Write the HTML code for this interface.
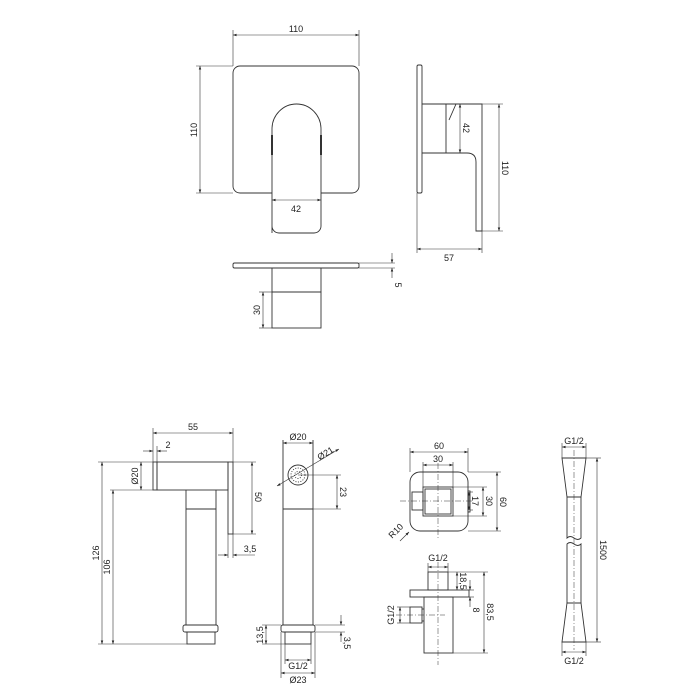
<!DOCTYPE html>
<html><head><meta charset="utf-8"><style>
html,body{margin:0;padding:0;background:#fff}
svg{display:block}
text{font-family:"Liberation Sans",sans-serif;font-size:9px;fill:#222}
</style></head><body>
<svg width="700" height="700" viewBox="0 0 700 700">
<defs>
<marker id="a" viewBox="0 0 10 10" refX="10" refY="5" markerWidth="6" markerHeight="6" orient="auto-start-reverse"><path d="M0,1.5 L10,5 L0,8.5 z" fill="#222"/></marker>
</defs>
<g fill="none" stroke="#333" stroke-width="0.9">
<!-- Top front -->
<rect x="233" y="66" width="126" height="127" rx="7"/>
<path d="M272,233 V129 A24.5,25 0 0 1 321,129 V226 A7,7 0 0 1 314,233 H279 A7,7 0 0 1 272,226" fill="#fff"/>
<line x1="272" y1="135" x2="272" y2="155" stroke-width="2"/>
<line x1="321" y1="135" x2="321" y2="155" stroke-width="2"/>
<line x1="233" y1="30" x2="233" y2="66" stroke-width="0.6"/>
<line x1="359" y1="30" x2="359" y2="66" stroke-width="0.6"/>
<line x1="233" y1="35" x2="359" y2="35" marker-start="url(#a)" marker-end="url(#a)" stroke-width="0.6"/>
<line x1="196" y1="66" x2="233" y2="66" stroke-width="0.6"/>
<line x1="196" y1="193" x2="233" y2="193" stroke-width="0.6"/>
<line x1="200" y1="66" x2="200" y2="193" marker-start="url(#a)" marker-end="url(#a)" stroke-width="0.6"/>
<line x1="272" y1="200" x2="321" y2="200" marker-start="url(#a)" marker-end="url(#a)" stroke-width="0.6"/>
<!-- side view -->
<rect x="417" y="65" width="5" height="128" rx="1.5"/>
<path d="M422,104 H482 V231 H476 V162 Q476,153 467,153 H422"/>
<path d="M446,104 V153 M456,104 L449,120"/>
<line x1="482" y1="104" x2="503" y2="104" stroke-width="0.6"/>
<line x1="482" y1="231" x2="503" y2="231" stroke-width="0.6"/>
<line x1="499" y1="104" x2="499" y2="231" marker-start="url(#a)" marker-end="url(#a)" stroke-width="0.6"/>
<line x1="460" y1="104" x2="460" y2="153" marker-start="url(#a)" marker-end="url(#a)" stroke-width="0.6"/>
<line x1="417" y1="193" x2="417" y2="253" stroke-width="0.6"/>
<line x1="482" y1="231" x2="482" y2="253" stroke-width="0.6"/>
<line x1="417" y1="249" x2="482" y2="249" marker-start="url(#a)" marker-end="url(#a)" stroke-width="0.6"/>
<!-- bottom view -->
<rect x="233" y="263" width="126" height="5" rx="1.5"/>
<line x1="359" y1="263" x2="395" y2="263" stroke-width="0.6"/>
<line x1="359" y1="268" x2="395" y2="268" stroke-width="0.6"/>
<line x1="392" y1="253" x2="392" y2="263" marker-end="url(#a)" stroke-width="0.6"/>
<line x1="392" y1="278" x2="392" y2="268" marker-end="url(#a)" stroke-width="0.6"/>
<rect x="272" y="268" width="49" height="24"/>
<rect x="272" y="292" width="49" height="36"/>
<line x1="259" y1="292" x2="272" y2="292" stroke-width="0.6"/>
<line x1="259" y1="328" x2="272" y2="328" stroke-width="0.6"/>
<line x1="263" y1="292" x2="263" y2="328" marker-start="url(#a)" marker-end="url(#a)" stroke-width="0.6"/>

<!-- hand shower side -->
<rect x="153" y="462" width="4" height="28"/>
<rect x="157" y="462" width="71" height="28"/>
<rect x="228" y="462" width="5" height="72"/>
<path d="M186,490 V625 M216,490 V625 M186,509 H216"/>
<rect x="183" y="625" width="35" height="7" rx="2"/>
<rect x="187" y="632" width="28" height="12"/>
<line x1="153" y1="428" x2="153" y2="462" stroke-width="0.6"/>
<line x1="233" y1="428" x2="233" y2="462" stroke-width="0.6"/>
<line x1="153" y1="433" x2="233" y2="433" marker-start="url(#a)" marker-end="url(#a)" stroke-width="0.6"/>
<line x1="143" y1="451" x2="153" y2="451" marker-end="url(#a)" stroke-width="0.6"/>
<line x1="167" y1="451" x2="157" y2="451" marker-end="url(#a)" stroke-width="0.6"/>
<line x1="157" y1="446" x2="157" y2="462" stroke-width="0.6"/>
<line x1="98" y1="462" x2="153" y2="462" stroke-width="0.6"/>
<line x1="110" y1="490" x2="153" y2="490" stroke-width="0.6"/>
<line x1="98" y1="644" x2="187" y2="644" stroke-width="0.6"/>
<line x1="102" y1="462" x2="102" y2="644" marker-start="url(#a)" marker-end="url(#a)" stroke-width="0.6"/>
<line x1="113" y1="490" x2="113" y2="644" marker-start="url(#a)" marker-end="url(#a)" stroke-width="0.6"/>
<line x1="141" y1="462" x2="141" y2="490" marker-start="url(#a)" marker-end="url(#a)" stroke-width="0.6"/>
<line x1="233" y1="462" x2="256" y2="462" stroke-width="0.6"/>
<line x1="233" y1="534" x2="256" y2="534" stroke-width="0.6"/>
<line x1="252" y1="462" x2="252" y2="534" marker-start="url(#a)" marker-end="url(#a)" stroke-width="0.6"/>
<line x1="228" y1="534" x2="228" y2="558" stroke-width="0.6"/>
<line x1="233" y1="534" x2="233" y2="558" stroke-width="0.6"/>
<line x1="218" y1="555" x2="228" y2="555" marker-end="url(#a)" stroke-width="0.6"/>
<line x1="255" y1="555" x2="233" y2="555" marker-end="url(#a)" stroke-width="0.6"/>
<!-- hand shower front -->
<path d="M283,440 V625 M313,440 V625 M283,509 H313"/>
<circle cx="298" cy="475" r="10"/>
<circle cx="298" cy="475" r="7" stroke-dasharray="1,1.5"/>
<circle cx="298" cy="475" r="3.5" stroke-dasharray="1,1.5"/>
<rect x="281" y="625" width="34" height="7" rx="2"/>
<rect x="285" y="632" width="26" height="12"/>
<line x1="283" y1="443" x2="313" y2="443" marker-start="url(#a)" marker-end="url(#a)" stroke-width="0.6"/>
<line x1="277" y1="486" x2="339" y2="449" marker-start="url(#a)" marker-end="url(#a)" stroke-width="0.6"/>
<line x1="298" y1="475" x2="341" y2="475" stroke-width="0.6"/>
<line x1="313" y1="509" x2="341" y2="509" stroke-width="0.6"/>
<line x1="337" y1="475" x2="337" y2="509" marker-start="url(#a)" marker-end="url(#a)" stroke-width="0.6"/>
<line x1="262" y1="625" x2="281" y2="625" stroke-width="0.6"/>
<line x1="262" y1="644" x2="285" y2="644" stroke-width="0.6"/>
<line x1="266" y1="625" x2="266" y2="644" marker-start="url(#a)" marker-end="url(#a)" stroke-width="0.6"/>
<line x1="315" y1="625" x2="345" y2="625" stroke-width="0.6"/>
<line x1="315" y1="632" x2="345" y2="632" stroke-width="0.6"/>
<line x1="341" y1="615" x2="341" y2="625" marker-end="url(#a)" stroke-width="0.6"/>
<line x1="341" y1="642" x2="341" y2="632" marker-end="url(#a)" stroke-width="0.6"/>
<line x1="285" y1="644" x2="285" y2="664" stroke-width="0.6"/>
<line x1="311" y1="644" x2="311" y2="664" stroke-width="0.6"/>
<line x1="281" y1="632" x2="281" y2="678" stroke-width="0.6"/>
<line x1="315" y1="632" x2="315" y2="678" stroke-width="0.6"/>
<line x1="285" y1="660" x2="311" y2="660" marker-start="url(#a)" marker-end="url(#a)" stroke-width="0.6"/>
<line x1="281" y1="673" x2="315" y2="673" marker-start="url(#a)" marker-end="url(#a)" stroke-width="0.6"/>

<!-- elbow top view -->
<rect x="410" y="472" width="58" height="59" rx="10"/>
<rect x="423" y="487" width="30" height="29"/>
<rect x="425" y="489" width="26" height="25"/>
<rect x="412" y="492" width="11" height="18"/>
<rect x="468" y="491" width="2" height="21"/>
<line x1="400" y1="501" x2="472" y2="501" stroke-dasharray="6,2,1,2" stroke-width="0.5"/>
<line x1="438" y1="463" x2="438" y2="540" stroke-dasharray="6,2,1,2" stroke-width="0.5"/>
<line x1="410" y1="448" x2="410" y2="472" stroke-width="0.6"/>
<line x1="468" y1="448" x2="468" y2="472" stroke-width="0.6"/>
<line x1="410" y1="452" x2="468" y2="452" marker-start="url(#a)" marker-end="url(#a)" stroke-width="0.6"/>
<line x1="423" y1="462" x2="423" y2="487" stroke-width="0.6"/>
<line x1="453" y1="462" x2="453" y2="487" stroke-width="0.6"/>
<line x1="423" y1="465" x2="453" y2="465" marker-start="url(#a)" marker-end="url(#a)" stroke-width="0.6"/>
<line x1="468" y1="472" x2="501" y2="472" stroke-width="0.6"/>
<line x1="468" y1="531" x2="501" y2="531" stroke-width="0.6"/>
<line x1="453" y1="487" x2="487" y2="487" stroke-width="0.6"/>
<line x1="453" y1="516" x2="487" y2="516" stroke-width="0.6"/>
<line x1="470" y1="492" x2="473" y2="492" stroke-width="0.6"/>
<line x1="470" y1="510" x2="473" y2="510" stroke-width="0.6"/>
<line x1="469" y1="492" x2="469" y2="510" marker-start="url(#a)" marker-end="url(#a)" stroke-width="0.6"/>
<line x1="483" y1="487" x2="483" y2="516" marker-start="url(#a)" marker-end="url(#a)" stroke-width="0.6"/>
<line x1="497" y1="472" x2="497" y2="531" marker-start="url(#a)" marker-end="url(#a)" stroke-width="0.6"/>
<line x1="400" y1="541" x2="409" y2="532" marker-end="url(#a)" stroke-width="0.6"/>
<!-- elbow side -->
<rect x="428" y="572" width="20" height="18"/>
<rect x="410" y="590" width="59" height="7"/>
<rect x="424" y="597" width="29" height="56"/>
<rect x="410" y="607" width="12" height="16"/>
<line x1="422" y1="609" x2="424" y2="609"/><line x1="422" y1="621" x2="424" y2="621"/>
<line x1="438" y1="562" x2="438" y2="665" stroke-dasharray="6,2,1,2" stroke-width="0.5"/>
<line x1="396" y1="615" x2="445" y2="615" stroke-dasharray="6,2,1,2" stroke-width="0.5"/>
<line x1="428" y1="563" x2="428" y2="572" stroke-width="0.6"/>
<line x1="448" y1="563" x2="448" y2="572" stroke-width="0.6"/>
<line x1="428" y1="567" x2="448" y2="567" marker-start="url(#a)" marker-end="url(#a)" stroke-width="0.6"/>
<line x1="448" y1="572" x2="488" y2="572" stroke-width="0.6"/>
<line x1="469" y1="590" x2="474" y2="590" stroke-width="0.6"/>
<line x1="469" y1="597" x2="474" y2="597" stroke-width="0.6"/>
<line x1="453" y1="653" x2="488" y2="653" stroke-width="0.6"/>
<line x1="457" y1="572" x2="457" y2="590" marker-start="url(#a)" marker-end="url(#a)" stroke-width="0.6"/>
<line x1="470" y1="580" x2="470" y2="590" marker-end="url(#a)" stroke-width="0.6"/>
<line x1="470" y1="607" x2="470" y2="597" marker-end="url(#a)" stroke-width="0.6"/>
<line x1="484" y1="572" x2="484" y2="653" marker-start="url(#a)" marker-end="url(#a)" stroke-width="0.6"/>
<line x1="397" y1="607" x2="410" y2="607" stroke-width="0.6"/>
<line x1="397" y1="623" x2="410" y2="623" stroke-width="0.6"/>
<line x1="400" y1="607" x2="400" y2="623" marker-start="url(#a)" marker-end="url(#a)" stroke-width="0.6"/>

<!-- hose -->
<path d="M562,458 H586 L581,497 H567 Z"/>
<path d="M567,497 V538 Q570,535 574,538 Q578,541 581,538 V497"/>
<path d="M567,603 V544 Q570,541 574,544 Q578,547 581,544 V603"/>
<path d="M567,603 H581 L586,642 H562 Z"/>
<line x1="574" y1="450" x2="574" y2="650" stroke-dasharray="6,2,1,2" stroke-width="0.5"/>
<line x1="562" y1="443" x2="562" y2="458" stroke-width="0.6"/>
<line x1="586" y1="443" x2="586" y2="458" stroke-width="0.6"/>
<line x1="562" y1="447" x2="586" y2="447" marker-start="url(#a)" marker-end="url(#a)" stroke-width="0.6"/>
<line x1="562" y1="642" x2="562" y2="656" stroke-width="0.6"/>
<line x1="586" y1="642" x2="586" y2="656" stroke-width="0.6"/>
<line x1="562" y1="652" x2="586" y2="652" marker-start="url(#a)" marker-end="url(#a)" stroke-width="0.6"/>
<line x1="586" y1="458" x2="601" y2="458" stroke-width="0.6"/>
<line x1="586" y1="642" x2="601" y2="642" stroke-width="0.6"/>
<line x1="597" y1="458" x2="597" y2="642" marker-start="url(#a)" marker-end="url(#a)" stroke-width="0.6"/>
</g>
<g text-anchor="middle">
<text x="296" y="32">110</text>
<text transform="translate(197,130) rotate(-90)">110</text>
<text x="296" y="212">42</text>
<text transform="translate(463,128) rotate(90)">42</text>
<text transform="translate(502,168) rotate(90)">110</text>
<text x="449" y="261">57</text>
<text transform="translate(395,285) rotate(90)">5</text>
<text transform="translate(260,310) rotate(-90)">30</text>

<text x="193" y="430">55</text>
<text x="168" y="448">2</text>
<text transform="translate(138,476) rotate(-90)">Ø20</text>
<text transform="translate(99,553) rotate(-90)">126</text>
<text transform="translate(110,567) rotate(-90)">106</text>
<text transform="translate(255,497) rotate(90)">50</text>
<text x="250" y="552">3,5</text>
<text x="298" y="440">Ø20</text>
<text transform="translate(327,456) rotate(-32)">Ø21</text>
<text transform="translate(340,492) rotate(90)">23</text>
<text transform="translate(263,635) rotate(-90)">13,5</text>
<text transform="translate(344,643) rotate(90)">3,5</text>
<text x="298" y="669">G1/2</text>
<text x="298" y="683">Ø23</text>

<text x="439" y="449">60</text>
<text x="438" y="462">30</text>
<text transform="translate(472,501) rotate(90)">17</text>
<text transform="translate(486,501) rotate(90)">30</text>
<text transform="translate(500,502) rotate(90)">60</text>
<text transform="translate(398,533) rotate(-45)">R10</text>
<text x="438" y="561">G1/2</text>
<text transform="translate(460,581) rotate(90)">18,5</text>
<text transform="translate(473,610) rotate(90)">8</text>
<text transform="translate(487,612) rotate(90)">83,5</text>
<text transform="translate(394,615) rotate(-90)">G1/2</text>
<text x="574" y="444">G1/2</text>
<text x="574" y="664">G1/2</text>
<text transform="translate(600,550) rotate(90)">1500</text>
</g>
</svg>
</body></html>
